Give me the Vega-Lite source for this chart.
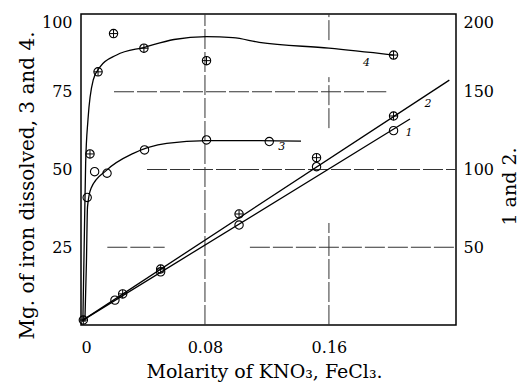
{
  "$schema": "https://vega.github.io/schema/vega-lite/v6.json",
  "width": 375,
  "height": 311,
  "autosize": "none",
  "padding": {"left": 81, "top": 14, "right": 64, "bottom": 57},
  "background": "white",
  "config": {
    "font": "DejaVu Serif",
    "view": {"stroke": "black", "strokeWidth": 1.5},
    "axis": {
      "labelFont": "DejaVu Serif", "titleFont": "DejaVu Serif",
      "labelColor": "black", "titleColor": "black",
      "labelFontSize": 16, "titleFontSize": 19, "titleFontWeight": "normal",
      "grid": false, "domain": false, "ticks": false
    }
  },
  "datasets": {
    "hgrid": [
      {"y": 75, "x": 0.0213, "x2": 0.197},
      {"y": 50, "x": 0.0426, "x2": 0.242},
      {"y": 25, "x": 0.017, "x2": 0.054},
      {"y": 25, "x": 0.109, "x2": 0.242}
    ],
    "vgrid": [
      {"x": 0.08, "y": 0, "y2": 100},
      {"x": 0.16, "y": 91.6, "y2": 100},
      {"x": 0.16, "y": 63.3, "y2": 79.7},
      {"x": 0.16, "y": 0, "y2": 32.8}
    ],
    "curves34": [
      {"series": "4", "x": 0.0012, "y": 1},
      {"series": "4", "x": 0.0022, "y": 30},
      {"series": "4", "x": 0.003, "y": 52},
      {"series": "4", "x": 0.0045, "y": 66},
      {"series": "4", "x": 0.0079, "y": 78.8},
      {"series": "4", "x": 0.0123, "y": 83},
      {"series": "4", "x": 0.023, "y": 86.8},
      {"series": "4", "x": 0.041, "y": 89.3},
      {"series": "4", "x": 0.06, "y": 91.8},
      {"series": "4", "x": 0.081, "y": 92.7},
      {"series": "4", "x": 0.098, "y": 92.4},
      {"series": "4", "x": 0.115, "y": 90.9},
      {"series": "4", "x": 0.16, "y": 89},
      {"series": "4", "x": 0.2017, "y": 86.8},
      {"series": "3", "x": 0.0025, "y": 1},
      {"series": "3", "x": 0.0035, "y": 20},
      {"series": "3", "x": 0.0042, "y": 38},
      {"series": "3", "x": 0.0065, "y": 44},
      {"series": "3", "x": 0.0166, "y": 49.8},
      {"series": "3", "x": 0.0338, "y": 55.2},
      {"series": "3", "x": 0.0553, "y": 58.4},
      {"series": "3", "x": 0.081, "y": 59.3},
      {"series": "3", "x": 0.1155, "y": 59.3},
      {"series": "3", "x": 0.142, "y": 59.1}
    ],
    "points34": [
      {"series": "4", "x": 0.0058, "y": 55},
      {"series": "4", "x": 0.011, "y": 81.4},
      {"series": "4", "x": 0.021, "y": 93.7},
      {"series": "4", "x": 0.0406, "y": 89},
      {"series": "4", "x": 0.081, "y": 85},
      {"series": "4", "x": 0.2017, "y": 86.8},
      {"series": "3", "x": 0.004, "y": 41},
      {"series": "3", "x": 0.0088, "y": 49.3},
      {"series": "3", "x": 0.0168, "y": 48.8},
      {"series": "3", "x": 0.041, "y": 56.3},
      {"series": "3", "x": 0.081, "y": 59.5},
      {"series": "3", "x": 0.1215, "y": 59}
    ],
    "labels34": [
      {"label": "4", "x": 0.1843, "y": 84.3},
      {"label": "3", "x": 0.1295, "y": 57.3}
    ],
    "lines12": [
      {"series": "2", "x": 0.001, "y": 3},
      {"series": "2", "x": 0.2377, "y": 157.5},
      {"series": "1", "x": 0.001, "y": 3},
      {"series": "1", "x": 0.2123, "y": 132.5}
    ],
    "points12": [
      {"series": "2", "x": 0.0015, "y": 3.2},
      {"series": "2", "x": 0.0269, "y": 20},
      {"series": "2", "x": 0.0514, "y": 36},
      {"series": "2", "x": 0.102, "y": 71.4},
      {"series": "2", "x": 0.152, "y": 107.6},
      {"series": "2", "x": 0.2017, "y": 134.4},
      {"series": "1", "x": 0.0219, "y": 16},
      {"series": "1", "x": 0.0514, "y": 34.2},
      {"series": "1", "x": 0.102, "y": 64.3},
      {"series": "1", "x": 0.152, "y": 101.8},
      {"series": "1", "x": 0.2017, "y": 125}
    ],
    "labels12": [
      {"label": "2", "x": 0.2239, "y": 142},
      {"label": "1", "x": 0.2116, "y": 123.5}
    ]
  },
  "layer": [
    {
      "encoding": {
        "x": {"field": "x", "type": "quantitative",
              "scale": {"domain": [0, 0.242], "nice": false, "zero": false},
              "axis": {"values": [0, 0.08, 0.16], "format": ".2~f", "labelPadding": 14,
                       "title": "Molarity of KNO₃, FeCl₃.", "titleX": 183, "titleY": 52,
                       "titleBaseline": "alphabetic"}},
        "y": {"field": "y", "type": "quantitative",
              "scale": {"domain": [0, 100], "nice": false},
              "axis": {"orient": "left", "values": [25, 50, 75, 100], "labelFlush": true,
                       "labelPadding": 9, "title": "Mg. of iron dissolved, 3 and 4.",
                       "titleFontSize": 20, "titleY": 171, "titleX": -48,
                       "titleAngle": 270, "titleBaseline": "alphabetic"}}
      },
      "layer": [
        {"data": {"name": "hgrid"}, "mark": {"type": "rule", "stroke": "#333", "strokeWidth": 1, "strokeDash": [20, 3]},
         "encoding": {"x2": {"field": "x2"}}},
        {"data": {"name": "vgrid"}, "mark": {"type": "rule", "stroke": "#333", "strokeWidth": 1, "strokeDash": [20, 3]},
         "encoding": {"y2": {"field": "y2"}}},
        {"data": {"name": "curves34"}, "mark": {"type": "line", "interpolate": "monotone", "stroke": "black", "strokeWidth": 1.3},
         "encoding": {"detail": {"field": "series"}}},
        {"data": {"name": "points34"}, "mark": {"type": "point", "shape": "circle", "filled": false, "stroke": "black", "strokeWidth": 1.1, "size": 70, "opacity": 1}},
        {"data": {"name": "points34"}, "transform": [{"filter": "datum.series == '4'"}],
         "mark": {"type": "point", "shape": "M-1,0H1M0,-1V1", "filled": false, "stroke": "black", "strokeWidth": 1, "size": 70, "opacity": 1}},
        {"data": {"name": "labels34"}, "mark": {"type": "text", "font": "DejaVu Serif", "fontStyle": "italic", "fontSize": 11, "color": "black"},
         "encoding": {"text": {"field": "label"}}}
      ]
    },
    {
      "encoding": {
        "x": {"field": "x", "type": "quantitative"},
        "y": {"field": "y", "type": "quantitative",
              "scale": {"domain": [0, 200], "nice": false},
              "axis": {"orient": "right", "values": [50, 100, 150, 200], "labelFlush": true,
                       "labelPadding": 7, "title": "1 and 2.", "titleFontSize": 19,
                       "titleAngle": 270, "titleY": 172, "titleX": 59, "titleBaseline": "alphabetic"}}
      },
      "layer": [
        {"data": {"name": "lines12"}, "mark": {"type": "line", "stroke": "black", "strokeWidth": 1.3},
         "encoding": {"detail": {"field": "series"}}},
        {"data": {"name": "points12"}, "mark": {"type": "point", "shape": "circle", "filled": false, "stroke": "black", "strokeWidth": 1.1, "size": 70, "opacity": 1}},
        {"data": {"name": "points12"}, "transform": [{"filter": "datum.series == '2'"}],
         "mark": {"type": "point", "shape": "M-1,0H1M0,-1V1", "filled": false, "stroke": "black", "strokeWidth": 1, "size": 70, "opacity": 1}},
        {"data": {"name": "labels12"}, "mark": {"type": "text", "font": "DejaVu Serif", "fontStyle": "italic", "fontSize": 11, "color": "black"},
         "encoding": {"text": {"field": "label"}}}
      ]
    }
  ],
  "resolve": {"scale": {"y": "independent"}}
}
